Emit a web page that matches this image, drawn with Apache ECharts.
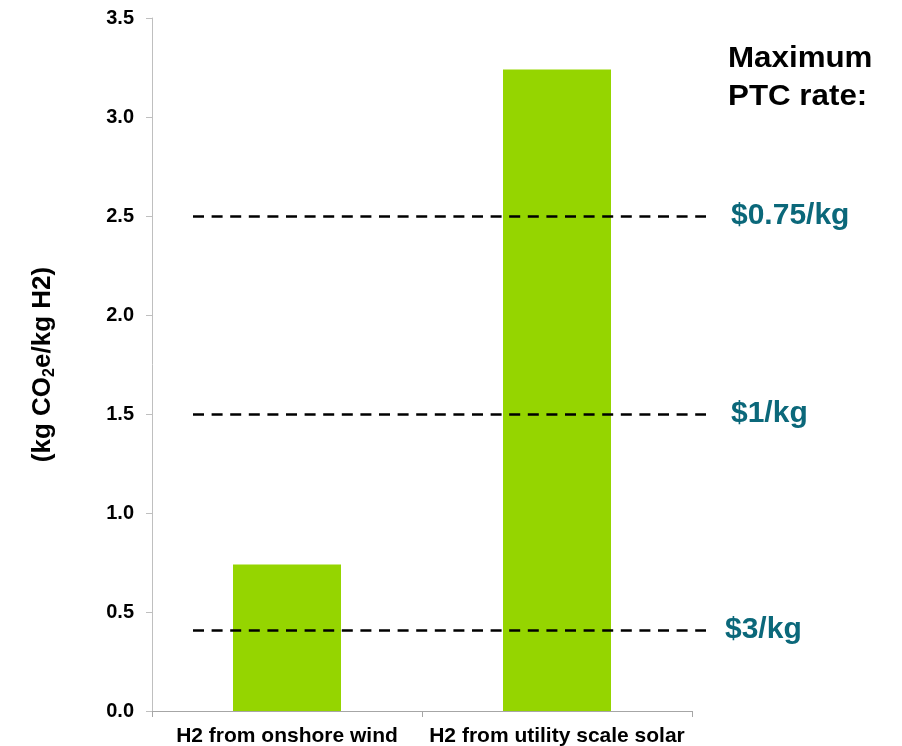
<!DOCTYPE html>
<html>
<head>
<meta charset="utf-8">
<script src="https://cdn.jsdelivr.net/npm/echarts@6/dist/echarts.min.js"></script>
<style>html,body{margin:0;padding:0;background:#fff}#c{width:902px;height:746px}</style>
</head>
<body>
<div id="c"></div>
<script>
const categories = ['H2 from onshore wind', 'H2 from utility scale solar'];
const emissions = [0.74, 3.24];
const thresholdValues = [2.5, 1.5, 0.41];
const thresholdLabels = ['$0.75/kg', '$1/kg', '$3/kg'];
const yTicks = { min: 0, max: 3.5, interval: 0.5 };

const FONT = 'Liberation Sans, Arial, sans-serif';
const TEAL = '#0b687a';
const labelDist = [25, 25, 19];

const chart = echarts.init(document.getElementById('c'));
chart.setOption({
  animation: false,
  grid: { left: 152, right: 210, top: 18, bottom: 35, containLabel: false, outerBoundsMode: 'none' },
  xAxis: {
    type: 'category',
    data: categories,
    axisLine: { lineStyle: { color: '#a6a6a6', width: 1 } },
    axisTick: { show: true, length: 6, lineStyle: { color: '#a6a6a6' } },
    axisLabel: { interval: 0, color: '#000', fontFamily: FONT, fontWeight: 'bold', fontSize: 21, margin: 15 }
  },
  yAxis: {
    type: 'value',
    min: yTicks.min, max: yTicks.max, interval: yTicks.interval,
    splitLine: { show: false },
    axisLine: { show: true, lineStyle: { color: '#bfbfbf', width: 1 } },
    axisTick: { show: true, length: 6, lineStyle: { color: '#bfbfbf' } },
    axisLabel: { color: '#000', fontFamily: FONT, fontWeight: 'bold', fontSize: 20, margin: 18,
      formatter: v => v.toFixed(1) },
    name: '{m|(kg CO}{s|2}{m|e/kg H2)}',
    nameLocation: 'middle',
    nameGap: 94,
    nameRotate: 90,
    nameTextStyle: {
      rich: {
        m: { fontFamily: FONT, fontWeight: 'bold', fontSize: 26, color: '#000', lineHeight: 30 },
        s: { fontFamily: FONT, fontWeight: 'bold', fontSize: 16, color: '#000', lineHeight: 30, verticalAlign: 'bottom' }
      }
    }
  },
  series: [{
    type: 'bar',
    data: emissions,
    barWidth: '40%',
    itemStyle: { color: '#95d500' },
    markLine: {
      silent: true,
      symbol: 'none',
      lineStyle: { color: '#000', type: [11, 7.6], width: 2.5 },
      data: thresholdValues.map((v, i) => [
        { x: 193, yAxis: v },
        { x: 706, yAxis: v,
          label: { show: true, position: 'end', distance: labelDist[i], formatter: thresholdLabels[i],
            color: TEAL, fontFamily: FONT, fontWeight: 'bold', fontSize: 30 } }
      ])
    }
  }],
  graphic: [{
    type: 'text',
    x: 728, y: 40,
    scaleX: 1.08,
    style: { text: 'Maximum\nPTC rate:', fontFamily: FONT, fontWeight: 'bold', fontSize: 29, lineHeight: 38, fill: '#000' }
  }]
});
</script>
</body>
</html>
